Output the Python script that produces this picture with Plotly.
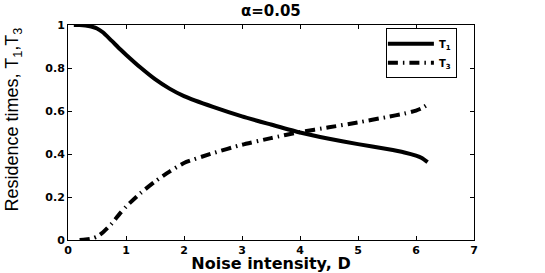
import plotly.graph_objects as go

D = [0.1, 0.2, 0.3, 0.4, 0.5, 0.6, 0.75, 0.9, 1.0, 1.25, 1.5, 1.75, 2.0, 2.5, 3.0, 3.5, 4.0, 4.5, 5.0, 5.5, 5.8, 6.0, 6.1, 6.2]
T1 = [1.0, 1.0, 0.998, 0.993, 0.984, 0.966, 0.927, 0.887, 0.862, 0.802, 0.748, 0.704, 0.669, 0.619, 0.575, 0.537, 0.50, 0.471, 0.446, 0.423, 0.407, 0.392, 0.381, 0.362]
T3 = [None, 0.0, 0.002, 0.006, 0.016, 0.035, 0.075, 0.125, 0.155, 0.218, 0.272, 0.318, 0.358, 0.404, 0.443, 0.474, 0.502, 0.524, 0.547, 0.572, 0.588, 0.602, 0.613, 0.63]

x_ticks = [0, 1, 2, 3, 4, 5, 6, 7]
y_ticks = [0, 0.2, 0.4, 0.6, 0.8, 1.0]
y_tick_text = ["0", "0.2", "0.4", "0.6", "0.8", "1"]

fig = go.Figure()
fig.add_trace(go.Scatter(x=D, y=T1, mode="lines", name="T<sub>1</sub>",
                         line=dict(color="black", width=4, shape="spline", smoothing=0.6)))
fig.add_trace(go.Scatter(x=D, y=T3, mode="lines", name="T<sub>3</sub>",
                         line=dict(color="black", width=4, dash="10px,5px,1.5px,5px", shape="spline", smoothing=0.6)))

axis_common = dict(showline=True, linecolor="black", linewidth=1, mirror="ticks",
                   ticks="inside", ticklen=4, tickcolor="black", showgrid=False, zeroline=False,
                   automargin=False,
                   tickfont=dict(family="DejaVu Sans", size=11, color="black", weight="bold"))

fig.update_xaxes(range=[0, 7], tickvals=x_ticks, ticktext=[str(v) for v in x_ticks],
                 title=dict(text="Noise intensity, D", standoff=3,
                            font=dict(family="DejaVu Sans", size=16, color="black", weight="bold")),
                 **axis_common)
fig.update_yaxes(range=[0, 1], tickvals=y_ticks, ticktext=y_tick_text, **axis_common)

fig.add_annotation(text="Residence times, T<sub>1</sub>,T<sub>3</sub>", textangle=-90,
                   xref="paper", yref="paper", x=-0.133, y=0.56,
                   xanchor="center", yanchor="middle", showarrow=False,
                   font=dict(family="Liberation Sans Narrow, Liberation Sans", size=18, color="black"))

fig.update_layout(
    width=545, height=273,
    margin=dict(l=68, r=71, t=25, b=33),
    paper_bgcolor="white", plot_bgcolor="white",
    title=dict(text="α=0.05", x=0.497, xanchor="center", y=0.962, yanchor="middle",
               font=dict(family="DejaVu Sans", size=15, color="black", weight="bold")),
    legend=dict(x=0.783, y=0.985, xanchor="left", yanchor="top",
                bordercolor="black", borderwidth=1, bgcolor="white",
                itemwidth=46, tracegroupgap=0, indentation=-4,
                font=dict(family="DejaVu Sans", size=10, color="black", weight="bold")),
    showlegend=True,
)

fig.write_html("out.html", config={"displayModeBar": False},
               post_script="document.body.style.margin='0';document.body.style.overflow='hidden';")
